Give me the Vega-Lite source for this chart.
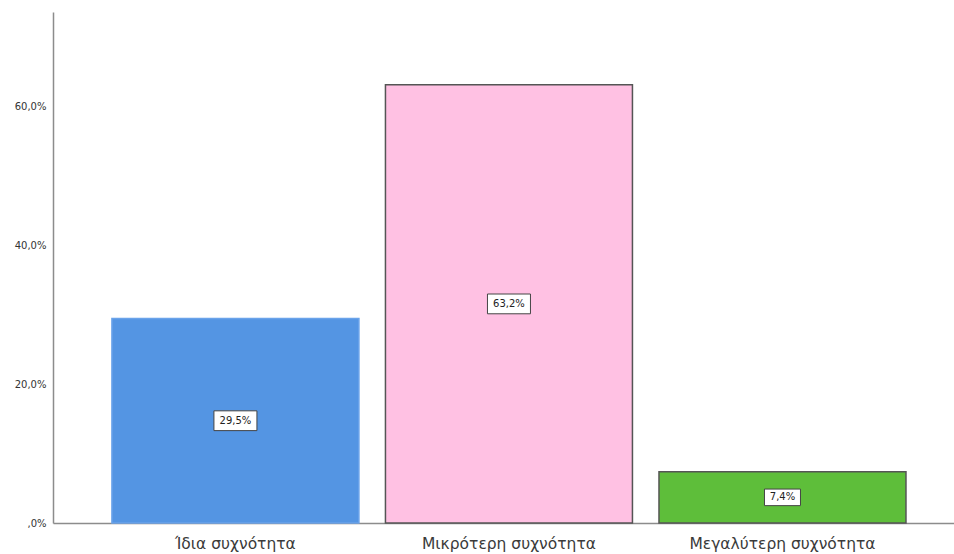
{
  "$schema": "https://vega.github.io/schema/vega-lite/v6.json",
  "autosize": {"type": "none"},
  "padding": {"left": 53, "top": 12, "right": 0, "bottom": 31},
  "width": 901,
  "height": 511,
  "background": "#ffffff",
  "config": {
    "view": {"stroke": null},
    "font": "DejaVu Sans",
    "locale": {
      "number": {
        "decimal": ",",
        "thousands": ".",
        "grouping": [3],
        "currency": ["", " €"]
      }
    }
  },
  "data": {
    "values": [
      {"category": "Ίδια συχνότητα", "pct": 0.295},
      {"category": "Μικρότερη συχνότητα", "pct": 0.632},
      {"category": "Μεγαλύτερη συχνότητα", "pct": 0.074}
    ]
  },
  "transform": [{"calculate": "datum.pct / 2", "as": "mid"}],
  "encoding": {
    "x": {
      "field": "category",
      "type": "nominal",
      "sort": null,
      "scale": {"paddingInner": 0.097, "paddingOuter": 0.1955, "align": 0.551},
      "axis": {
        "title": null,
        "labelAngle": 0,
        "ticks": false,
        "grid": false,
        "labelFont": "DejaVu Sans",
        "labelFontSize": 15.5,
        "labelColor": "#3a3a3a",
        "labelPadding": 13,
        "labelLimit": 0,
        "domainColor": "#8c8c8c",
        "domainWidth": 1.5
      }
    }
  },
  "layer": [
    {
      "mark": {"type": "bar", "strokeWidth": 1.5},
      "encoding": {
        "y": {
          "field": "pct",
          "type": "quantitative",
          "scale": {"domain": [0, 0.737], "nice": false},
          "axis": {
            "title": null,
            "values": [0, 0.2, 0.4, 0.6],
            "format": ".1%",
            "labelExpr": "datum.value === 0 ? ',0%' : datum.label",
            "ticks": false,
            "grid": false,
            "labelFont": "DejaVu Sans",
            "labelFontSize": 10,
            "labelColor": "#333333",
            "labelPadding": 7,
            "domainColor": "#8c8c8c",
            "domainWidth": 1.5
          }
        },
        "color": {
          "field": "category",
          "type": "nominal",
          "sort": null,
          "scale": {
            "domain": ["Ίδια συχνότητα", "Μικρότερη συχνότητα", "Μεγαλύτερη συχνότητα"],
            "range": ["#5495e3", "#ffc1e3", "#5ebe3a"]
          },
          "legend": null
        },
        "stroke": {
          "condition": {"test": "datum.category === 'Ίδια συχνότητα'", "value": "#6aa3ea"},
          "value": "#555555"
        }
      }
    },
    {
      "mark": {
        "type": "point",
        "shape": "M-1,-0.46H1V0.46H-1Z",
        "filled": true,
        "fill": "#ffffff",
        "stroke": "#444444",
        "strokeWidth": 1,
        "opacity": 1
      },
      "encoding": {
        "y": {"field": "mid", "type": "quantitative"},
        "size": {
          "condition": {"test": "datum.pct < 0.1", "value": 1296},
          "value": 1849
        }
      }
    },
    {
      "mark": {"type": "text", "font": "DejaVu Sans", "fontSize": 10, "color": "#222222", "baseline": "middle", "align": "center"},
      "encoding": {
        "y": {"field": "mid", "type": "quantitative"},
        "text": {"field": "pct", "type": "quantitative", "format": ".1%"}
      }
    }
  ]
}
